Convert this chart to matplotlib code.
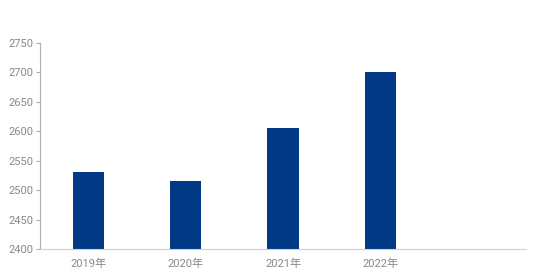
import matplotlib
matplotlib.use("Agg")
import matplotlib.pyplot as plt

categories = ["2019年", "2020年", "2021年", "2022年", ""]
values = [2531, 2516, 2605, 2700, None]
yticks = [2400, 2450, 2500, 2550, 2600, 2650, 2700, 2750]

plt.rcParams['font.family'] = ['Roboto', 'Noto Sans CJK SC', 'DejaVu Sans']

fig = plt.figure(figsize=(5.54, 2.8), dpi=100)
ax = fig.add_axes([40/554, 1-249/280, 486/554, 206/280])

xs = [i for i, v in enumerate(values) if v is not None]
vs = [v for v in values if v is not None]
ax.bar(xs, vs, width=0.32, color="#023984", zorder=2)

ax.set_xlim(-0.5, len(categories) - 0.5)
ax.set_ylim(2400, 2750)
ax.set_yticks(yticks)
ax.set_xticks(range(len(categories)))
ax.set_xticklabels(categories)

for s in ["top", "right"]:
    ax.spines[s].set_visible(False)
ax.spines["left"].set_color("#b0b0b0")
ax.spines["bottom"].set_color("#d0d0d0")
ax.tick_params(axis="y", colors="#b0b0b0", labelcolor="#888888", labelsize=8, length=3, width=0.8, pad=2)
ax.tick_params(axis="x", length=0, labelcolor="#888888", labelsize=8, pad=7)

fig.savefig("out.png", dpi=100)
